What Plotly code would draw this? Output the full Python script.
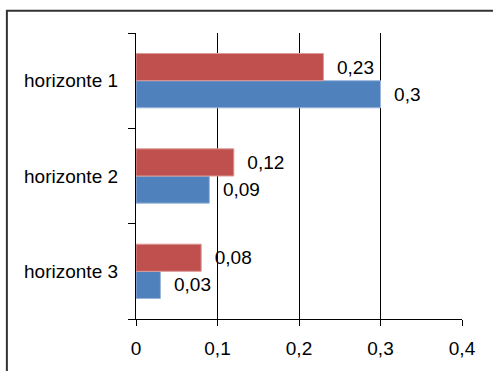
import plotly.graph_objects as go

# Data
categories = ["horizonte 1", "horizonte 2", "horizonte 3"]
serie_azul = [0.3, 0.09, 0.03]
serie_roja = [0.23, 0.12, 0.08]
x_ticks = [0, 0.1, 0.2, 0.3, 0.4]
x_tick_labels = ["0", "0,1", "0,2", "0,3", "0,4"]

FONT = "Liberation Sans"
FSIZE = 19
PAD = "\u00a0\u00a0"


def fmt(v):
    return PAD + ("%g" % v).replace(".", ",")


fig = go.Figure()
fig.add_trace(go.Bar(
    y=categories, x=serie_azul, orientation="h",
    marker=dict(color="#4F81BD", line=dict(color="#9db7dc", width=1)),
    text=[fmt(v) for v in serie_azul], textposition="outside",
    textfont=dict(family=FONT, size=FSIZE, color="#000"),
    cliponaxis=False, showlegend=False,
))
fig.add_trace(go.Bar(
    y=categories, x=serie_roja, orientation="h",
    marker=dict(color="#C0504D", line=dict(color="#dc9a98", width=1)),
    text=[fmt(v) for v in serie_roja], textposition="outside",
    textfont=dict(family=FONT, size=FSIZE, color="#000"),
    cliponaxis=False, showlegend=False,
))

W, H = 493, 371
L, R, T, B = 136, 31.3, 32.7, 47.3
pw, ph = W - L - R, H - T - B

fig.update_layout(
    width=W, height=H,
    margin=dict(l=L, r=R, t=T, b=B, pad=0),
    paper_bgcolor="white", plot_bgcolor="white",
    barmode="group", bargap=0.43, bargroupgap=0,
    separators=",.",
    font=dict(family=FONT, size=FSIZE, color="#000"),
    xaxis=dict(
        range=[0, 0.4], tickvals=x_ticks, ticktext=x_tick_labels,
        showgrid=True, gridcolor="#000", gridwidth=1.3,
        showline=True, linecolor="#000", linewidth=1.3,
        ticks="outside", ticklen=6, tickwidth=1.3, tickcolor="#000",
        zeroline=False, ticklabelstandoff=6,
        tickfont=dict(family=FONT, size=FSIZE, color="#000"),
    ),
    yaxis=dict(
        type="category", categoryorder="array",
        categoryarray=categories[::-1],
        showgrid=False, showline=True, linecolor="#000", linewidth=1.3,
        ticks="outside", ticklen=7, tickwidth=1.3, tickcolor="#000",
        tickson="boundaries", ticklabelstandoff=13,
        tickfont=dict(family=FONT, size=FSIZE, color="#000"),
    ),
    shapes=[dict(
        type="rect", xref="paper", yref="paper",
        x0=(7 - L) / pw, x1=(W + 20 - L) / pw,
        y0=-(B + 20) / ph, y1=(H - B - 10) / ph,
        line=dict(color="#333", width=2), fillcolor="rgba(0,0,0,0)",
        layer="above",
    )],
)

fig.write_html("out.html")
